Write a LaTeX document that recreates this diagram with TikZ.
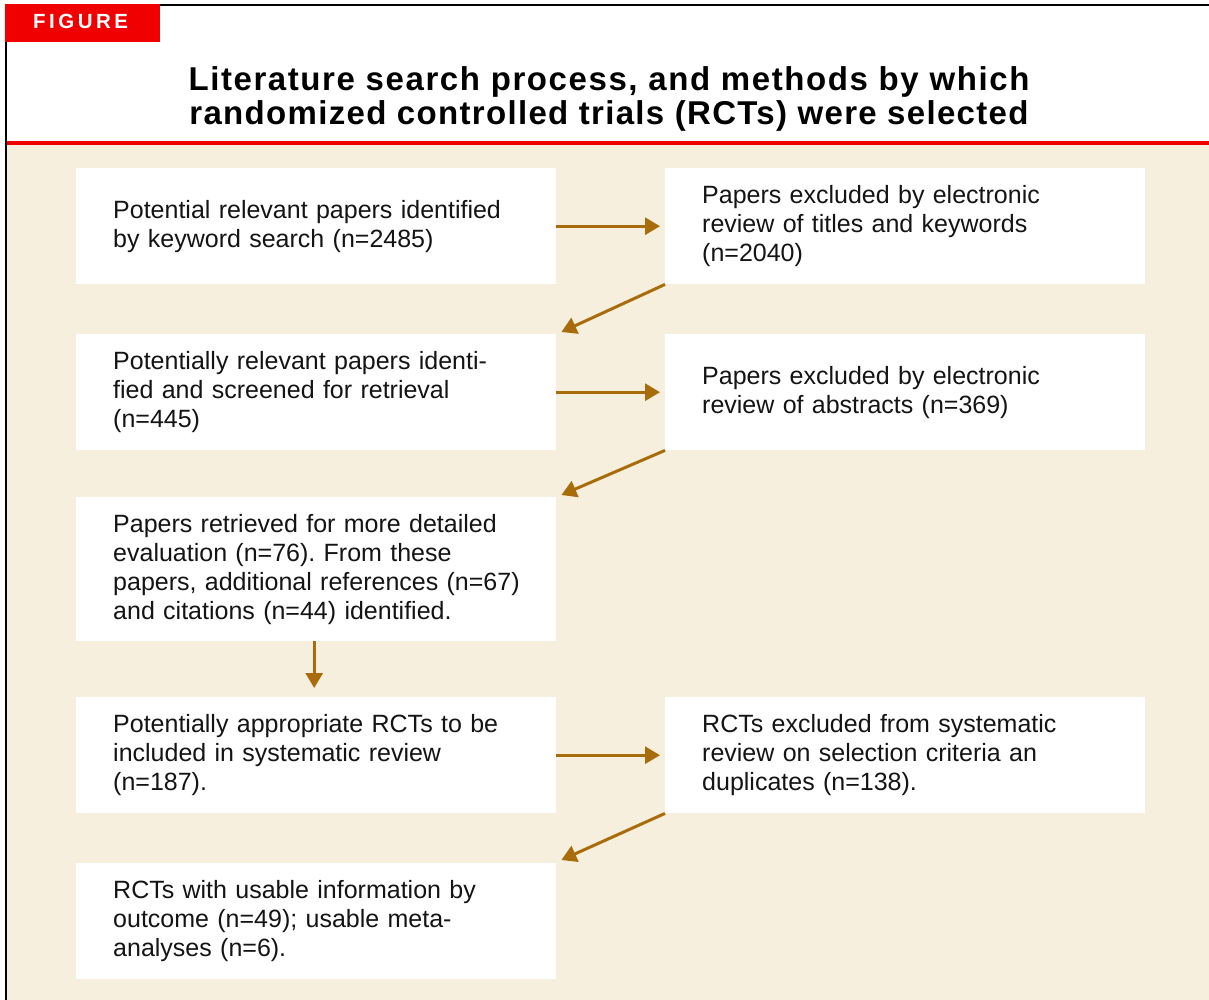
\documentclass[tikz,border=0pt]{standalone}
\usepackage{fontspec}
\setmainfont{Liberation Sans}
\usetikzlibrary{arrows.meta,calc}
\definecolor{panelbg}{RGB}{246,239,222}
\definecolor{flowarrow}{RGB}{168,108,10}
\definecolor{headred}{RGB}{240,0,0}
\definecolor{inktext}{RGB}{20,20,20}

\begin{document}
\begin{tikzpicture}[x=1pt,y=-1pt,
  stagebox/.style={fill=white, draw=none, minimum width=480pt, minimum height=116pt,
    text width=406pt, align=left, inner xsep=0pt, inner ysep=0pt, anchor=north west,
    text=inktext, font=\fontsize{25}{29}\selectfont\frenchspacing},
  flow/.style={draw=flowarrow, line width=3pt, -{Triangle[length=15pt,width=17pt]}},
  headline/.style={anchor=base, text=black, inner sep=0pt,
    font=\fontsize{33}{36}\selectfont\bfseries\addfontfeature{LetterSpace=4.8}}
]
\useasboundingbox (0,0) rectangle (1209,1000);
\fill[white] (0,0) rectangle (1209,1000);

% panel background and heading rule
\fill[panelbg] (7,145) rectangle (1209,1000);
\fill[headred] (7,141) rectangle (1209,145);

% frame and tag
\draw[line width=2pt] (6,1000) -- (6,5) -- (1209,5);
\fill[headred] (5,4) rectangle (160,42);
\node[anchor=base west, text=white, inner sep=0pt,
  font=\fontsize{20.5}{22}\selectfont\bfseries\addfontfeature{LetterSpace=17}]
  (tag) at (33,28.3) {FIGURE};

% heading
\node[headline] (title1) at (609,90.7) {Literature search process, and methods by which};
\node[headline, font=\fontsize{33}{36}\selectfont\bfseries\addfontfeature{LetterSpace=4}] (title2) at (609,125) {randomized controlled trials (RCTs) were selected};

% stages
\node[stagebox] (b1) at (76,168) {Potential relevant papers identified\\by keyword search (n=2485)};
\node[stagebox] (b2) at (665,168) {Papers excluded by electronic\\review of titles and keywords\\(n=2040)};
\node[stagebox] (b3) at (76,334) {Potentially relevant papers identi-\\fied and screened for retrieval\\(n=445)};
\node[stagebox] (b4) at (665,334) {Papers excluded by electronic\\review of abstracts (n=369)};
\node[stagebox, minimum height=144pt] (b5) at (76,497) {Papers retrieved for more detailed\\evaluation (n=76). From these\\\mbox{papers, additional references (n=67)}\\and citations (n=44) identified.};
\node[stagebox] (b6) at (76,697) {Potentially appropriate RCTs to be\\included in systematic review\\(n=187).};
\node[stagebox] (b7) at (665,697) {RCTs excluded from systematic\\review on selection criteria an\\duplicates (n=138).};
\node[stagebox] (b8) at (76,863) {RCTs with usable information by\\outcome (n=49); usable meta-\\analyses (n=6).};

% connectors
\draw[flow] (b1.east) -- ([xshift=-5pt]b2.west);
\draw[flow] (b2.south west) -- ($(b3.north east)+(5,-2)$);
\draw[flow] (b3.east) -- ([xshift=-5pt]b4.west);
\draw[flow] (b4.south west) -- ($(b5.north east)+(5,-2)$);
\draw[flow] ([xshift=-2pt]b5.south) -- ([xshift=-2pt,yshift=9pt]b6.north);
\draw[flow] (b6.east) -- ([xshift=-5pt]b7.west);
\draw[flow] (b7.south west) -- ($(b8.north east)+(5,-3)$);
\end{tikzpicture}
\end{document}
